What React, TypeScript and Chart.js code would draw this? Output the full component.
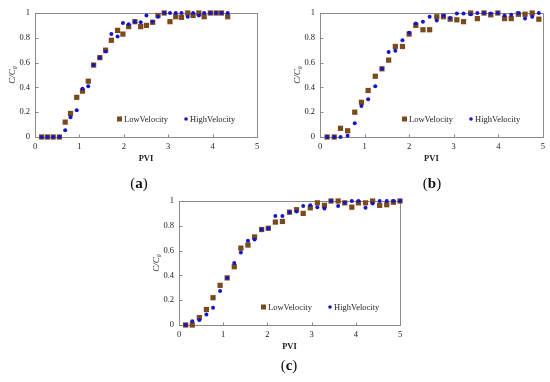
import React, { useEffect, useRef } from 'react';
import { Chart, registerables } from 'chart.js';

Chart.register(...registerables);

// ---------- data ----------
const seriesNames = ['LowVelocity', 'HighVelocity'];
const yTicks = [0, 0.2, 0.4, 0.6, 0.8, 1];
const yTickLabels = ['0', '0.2', '0.4', '0.6', '0.8', '1'];
const xTicks = [0, 1, 2, 3, 4, 5];
const xTickLabels = ['0', '1', '2', '3', '4', '5'];
const yTitle = 'C/C\u2080';
const xTitle = 'PVI';

const xA = [0.15, 0.28, 0.41, 0.55, 0.68, 0.8, 0.94, 1.07, 1.2, 1.32, 1.46, 1.59, 1.72, 1.86, 1.98, 2.11, 2.25, 2.38, 2.51, 2.65, 2.77, 2.91, 3.04, 3.17, 3.3, 3.44, 3.56, 3.69, 3.81, 3.95, 4.08, 4.2, 4.34];
const lowA = [0, 0, 0, 0, 0.12, 0.19, 0.32, 0.37, 0.45, 0.58, 0.64, 0.7, 0.78, 0.86, 0.83, 0.89, 0.93, 0.89, 0.9, 0.925, 0.98, 1.0, 0.93, 0.97, 0.965, 1.0, 0.98, 1.0, 0.97, 1.0, 1.0, 1.0, 0.97];
const highA = [0, 0, 0, 0, 0.055, 0.16, 0.215, 0.39, 0.41, 0.58, 0.64, 0.69, 0.83, 0.81, 0.92, 0.91, 0.93, 0.925, 0.98, 0.93, 0.97, 1.0, 1.0, 1.0, 1.0, 0.97, 1.0, 0.98, 1.0, 1.0, 1.0, 1.0, 1.0];

const xB = [0.16, 0.32, 0.46, 0.62, 0.78, 0.93, 1.08, 1.24, 1.39, 1.54, 1.69, 1.85, 2.0, 2.15, 2.31, 2.46, 2.62, 2.77, 2.92, 3.07, 3.22, 3.38, 3.53, 3.68, 3.83, 3.99, 4.14, 4.29, 4.45, 4.6, 4.76, 4.91];
const lowB = [0, 0, 0.07, 0.05, 0.2, 0.28, 0.375, 0.49, 0.55, 0.62, 0.73, 0.73, 0.83, 0.9, 0.865, 0.865, 0.97, 0.97, 0.95, 0.945, 0.93, 1.0, 0.955, 1.0, 0.985, 1.0, 0.955, 0.955, 0.99, 0.99, 1.0, 0.95];
const highB = [0, 0, 0, 0.01, 0.11, 0.25, 0.305, 0.41, 0.55, 0.685, 0.695, 0.78, 0.84, 0.915, 0.93, 0.97, 0.94, 0.98, 0.96, 0.995, 0.995, 0.99, 1.0, 1.0, 0.995, 1.0, 0.98, 0.985, 1.0, 0.955, 0.97, 1.0];

const xC = [0.15, 0.3, 0.46, 0.62, 0.77, 0.93, 1.09, 1.25, 1.4, 1.56, 1.71, 1.87, 2.02, 2.18, 2.34, 2.5, 2.66, 2.81, 2.97, 3.13, 3.29, 3.44, 3.6, 3.75, 3.91, 4.06, 4.22, 4.38, 4.54, 4.7, 4.85, 5.0];
const lowC = [0, 0, 0.06, 0.125, 0.22, 0.32, 0.38, 0.47, 0.62, 0.645, 0.71, 0.77, 0.78, 0.83, 0.835, 0.91, 0.93, 0.9, 0.945, 0.985, 0.965, 1.0, 1.0, 0.985, 0.95, 0.985, 0.985, 1.0, 0.965, 0.97, 0.99, 1.0];
const highC = [0, 0.03, 0.04, 0.085, 0.14, 0.275, 0.38, 0.5, 0.585, 0.68, 0.69, 0.77, 0.78, 0.88, 0.88, 0.91, 0.915, 0.96, 0.965, 0.95, 0.94, 1.0, 0.96, 0.985, 1.0, 1.0, 0.945, 0.98, 1.0, 1.0, 1.0, 1.0];

const panelLetters = ['a', 'b', 'c'];

// ---------- styles ----------
const LOW_COLOR = '#7a4a1c';
const HIGH_COLOR = '#1616c8';
const FRAME_COLOR = '#8a8a8a';
const TEXT_COLOR = '#222';
const SERIF = "'Liberation Serif', 'Times New Roman', serif";

type PanelProps = { xs: number[]; low: number[]; high: number[]; left: number; top: number; padRight: number };

function Panel({ xs, low, high, left, top, padRight }: PanelProps) {
  const ref = useRef<HTMLCanvasElement | null>(null);
  useEffect(() => {
    if (!ref.current) return;
    const framePlugin = {
      id: 'frame',
      beforeDatasetsDraw(chart: any) {
        const { ctx, chartArea: a, scales } = chart;
        const L = Math.round(a.left) + 0.5;
        const T = Math.round(a.top) + 0.5;
        const B = Math.round(a.bottom) + 0.5;
        ctx.save();
        ctx.strokeStyle = FRAME_COLOR;
        ctx.lineWidth = 1;
        ctx.strokeRect(L, T, Math.round(a.right - a.left), Math.round(a.bottom - a.top));
        ctx.beginPath();
        for (const v of yTicks) {
          const py = Math.round(scales.y.getPixelForValue(v)) + 0.5;
          ctx.moveTo(L, py);
          ctx.lineTo(L + 3, py);
        }
        for (const v of xTicks) {
          const px = Math.round(scales.x.getPixelForValue(v)) + 0.5;
          ctx.moveTo(px, B);
          ctx.lineTo(px, B - 3);
        }
        ctx.stroke();
        ctx.restore();
      },
      afterDraw(chart: any) {
        const { ctx, chartArea: a } = chart;
        const y = a.bottom - 18;
        ctx.save();
        ctx.font = `8.5px ${SERIF}`;
        ctx.textBaseline = 'middle';
        ctx.fillStyle = LOW_COLOR;
        ctx.fillRect(a.left + 82, y - 2.5, 5, 5);
        ctx.fillStyle = TEXT_COLOR;
        ctx.fillText(seriesNames[0], a.left + 89, y + 0.5);
        ctx.fillStyle = HIGH_COLOR;
        ctx.beginPath();
        ctx.arc(a.left + 151, y, 1.8, 0, Math.PI * 2);
        ctx.fill();
        ctx.fillStyle = TEXT_COLOR;
        ctx.fillText(seriesNames[1], a.left + 155, y + 0.5);
        ctx.restore();
      },
    };
    const chart = new Chart(ref.current, {
      type: 'scatter',
      data: {
        datasets: [
          {
            label: seriesNames[1],
            data: xs.map((x, i) => ({ x, y: high[i] })),
            pointStyle: 'circle',
            pointRadius: 2,
            backgroundColor: HIGH_COLOR,
            borderColor: HIGH_COLOR,
            borderWidth: 0,
            order: 0,
            clip: false,
          },
          {
            label: seriesNames[0],
            data: xs.map((x, i) => ({ x, y: low[i] })),
            pointStyle: 'rect',
            pointRadius: 3.7,
            backgroundColor: LOW_COLOR,
            borderColor: LOW_COLOR,
            borderWidth: 0,
            order: 1,
            clip: false,
          },
        ],
      },
      options: {
        responsive: false,
        animation: false,
        layout: { padding: { top: 13, right: padRight, bottom: 0, left: 0 } },
        plugins: { legend: { display: false }, tooltip: { enabled: false } },
        scales: {
          x: {
            type: 'linear',
            min: 0,
            max: 5,
            afterBuildTicks: (s: any) => { s.ticks = xTicks.map((v) => ({ value: v })); },
            afterFit: (s: any) => { s.height = 33; },
            grid: { display: false, drawTicks: false },
            border: { display: false },
            ticks: {
              color: TEXT_COLOR,
              font: { family: SERIF, size: 8.5 },
              padding: 5,
              maxRotation: 0,
              callback: (_v: any, i: number) => xTickLabels[i],
            },
            title: { display: true, text: xTitle, color: TEXT_COLOR, font: { family: SERIF, size: 8.5, weight: 'bold' }, padding: { top: 0, bottom: 6 } },
          },
          y: {
            type: 'linear',
            min: 0,
            max: 1,
            afterBuildTicks: (s: any) => { s.ticks = yTicks.map((v) => ({ value: v })); },
            afterFit: (s: any) => { s.width = 35; },
            grid: { display: false, drawTicks: false },
            border: { display: false },
            ticks: {
              color: TEXT_COLOR,
              font: { family: SERIF, size: 8.5 },
              padding: 5,
              callback: (_v: any, i: number) => yTickLabels[i],
            },
            title: { display: true, text: yTitle, color: TEXT_COLOR, font: { family: SERIF, size: 9, style: 'italic' }, padding: { top: 7, bottom: 0 } },
          },
        },
      },
      plugins: [framePlugin],
    } as any);
    return () => chart.destroy();
  }, [xs, low, high, padRight]);
  return (
    <canvas
      ref={ref}
      width={265}
      height={170}
      style={{ position: 'absolute', left, top, width: 265, height: 170 }}
    />
  );
}

function Caption({ letter, x, y }: { letter: string; x: number; y: number }) {
  return (
    <div
      style={{
        position: 'absolute',
        left: x,
        top: y,
        transform: 'translate(-50%, -50%)',
        fontFamily: SERIF,
        fontSize: 15,
        color: '#111',
        whiteSpace: 'nowrap',
        lineHeight: 1,
      }}
    >
      (<b>{letter}</b>)
    </div>
  );
}

export default function App() {
  return (
    <div style={{ position: 'fixed', left: 0, top: 0, width: 550, height: 382, background: '#fff', overflow: 'hidden' }}>
      <Panel xs={xA} low={lowA} high={highA} left={0} top={0} padRight={8} />
      <Panel xs={xB} low={lowB} high={highB} left={285} top={0} padRight={7} />
      <Panel xs={xC} low={lowC} high={highC} left={144} top={188} padRight={9} />
      <Caption letter={panelLetters[0]} x={139} y={183} />
      <Caption letter={panelLetters[1]} x={432} y={183} />
      <Caption letter={panelLetters[2]} x={289} y={365} />
    </div>
  );
}
